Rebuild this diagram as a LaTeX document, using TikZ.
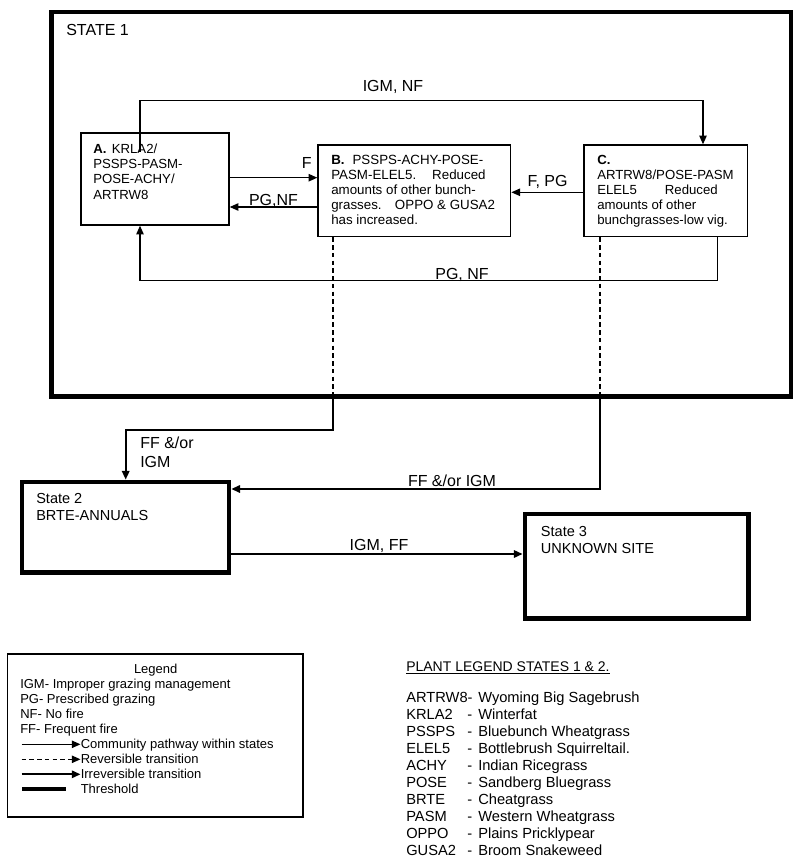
\documentclass[tikz,border=0pt]{standalone}
\usepackage{fontspec}
\setmainfont{Liberation Sans}
\usetikzlibrary{arrows.meta,calc}
\newcommand\plantrow[2]{\makebox[45.75pt][l]{#1}\makebox[8.25pt][l]{-}#2}
\begin{document}
\begin{tikzpicture}[x=0.75pt,y=-0.75pt,
  tip/.style={-{Triangle[length=6.5pt,width=5.5pt]}},
  comm/.style={line width=1pt,tip},
  trans/.style={line width=1.5pt,tip},
  revline/.style={line width=1pt,dash pattern=on 3.4pt off 2.4pt},
  thinbox/.style={draw,line width=1pt,inner sep=0pt},
  statebox/.style={draw,line width=3.5pt,inner sep=0pt},
  boxtxt/.style={anchor=north west,inner sep=0pt,align=left,font=\fontsize{10}{11.25}\selectfont},
  lbl/.style={inner sep=0pt,font=\fontsize{12}{13.9}\selectfont},
  legtxt/.style={inner sep=0pt,font=\fontsize{9.75}{11.25}\selectfont},
  plant/.style={anchor=north west,inner sep=0pt,align=left,font=\fontsize{11}{12.75}\selectfont}]
\useasboundingbox (0,0) rectangle (800,863);
\fill[white] (0,0) rectangle (800,863);

% State boxes
\node[statebox,minimum width=554.6pt,minimum height=288.4pt] (S1) at (421.25,204.25) {};
\node[anchor=north west,inner sep=0pt,font=\fontsize{12}{14}\selectfont] (S1t) at (66,24) {STATE 1};
\node[statebox,minimum width=155.25pt,minimum height=67.9pt] (S2) at (125.5,527.25) {};
\node[anchor=north west,inner sep=0pt,align=left,font=\fontsize{10.9}{12.5}\selectfont] (S2t) at (36,493.5) {State 2\\BRTE-ANNUALS};
\node[statebox,minimum width=167.5pt,minimum height=78.2pt] (S3) at (636.6,566.1) {};
\node[anchor=north west,inner sep=0pt,align=left,font=\fontsize{10.9}{12.5}\selectfont] (S3t) at (540.7,526) {State 3\\UNKNOWN SITE};

% Community boxes
\node[thinbox,minimum width=111pt,minimum height=69pt] (A) at (155,179) {};
\node[boxtxt,font=\fontsize{9.9}{11.5}\selectfont] (At) at (93,143.3) {\textbf{A.}\hspace{4pt}KRLA2/\\PSSPS-PASM-\\POSE-ACHY/\\ARTRW8};
\node[thinbox,minimum width=144.5pt,minimum height=68.8pt] (B) at (414.35,190.85) {};
\node[boxtxt] (Bt) at (331,154.6) {\textbf{B.}\hspace{6pt}PSSPS-ACHY-POSE-\\PASM-ELEL5.\hspace{12pt}Reduced\\amounts of other bunch-\\grasses.\hspace{10pt}OPPO \& GUSA2\\has increased.};
\node[thinbox,minimum width=122.8pt,minimum height=68.8pt] (C) at (665.85,190.85) {};
\node[boxtxt,font=\fontsize{9.9}{11.25}\selectfont] (Ct) at (597,155.3) {\textbf{C.}\\ARTRW8/POSE-PASM\\ELEL5\hspace{21pt}Reduced\\amounts of other\\bunchgrasses-low vig.};

% pathways within State 1
\coordinate (igmStart) at (140,152);
\coordinate (igmTurn) at (703,100.7);
\draw[comm] (igmStart) -- (igmStart |- igmTurn) -- (igmTurn) -- (igmTurn |- C.north);
\node[lbl,anchor=base] (lIN) at (393,91.7) {IGM, NF};

\coordinate (fY) at (0,177.7);
\draw[comm] (A.east |- fY) -- (B.west |- fY);
\node[lbl,anchor=base east] (lF) at (312,168) {F};

\coordinate (pgY) at (0,207);
\draw[comm] (B.west |- pgY) -- (A.east |- pgY);
\node[lbl,anchor=base] (lPN) at (273.5,205.7) {PG,NF};

\coordinate (fpY) at (0,192.3);
\draw[comm] (C.west |- fpY) -- (B.east |- fpY);
\node[lbl,anchor=base] (lFP) at (547.5,186.7) {F, PG};

\coordinate (botR) at (717.7,280.7);
\coordinate (botL) at (140,280.7);
\draw[comm] (C.south -| botR) -- (botR) -- (botL) -- (botL |- A.south);
\node[lbl,anchor=base] (lPN2) at (462,279.3) {PG, NF};

% transitions
\coordinate (bx) at (333,0);
\coordinate (bTurn) at (333,430);
\coordinate (bTurn2) at (125.7,430);
\draw[revline] (B.south -| bx) -- (S1.south -| bx);
\draw[trans] (S1.south -| bx) -- (bTurn) -- (bTurn2) -- (bTurn2 |- S2.north);
\node[anchor=north west,inner sep=0pt,align=left,font=\fontsize{12}{13.9}\selectfont] (lFF1) at (140,437) {FF \&/or\\IGM};

\coordinate (cx) at (600,0);
\coordinate (cTurn) at (600,489);
\draw[revline] (C.south -| cx) -- (S1.south -| cx);
\draw[trans] (S1.south -| cx) -- (cTurn) -- (cTurn -| S2.east);
\node[lbl,anchor=base] (lFF2) at (452,486.5) {FF \&/or IGM};

\coordinate (gY) at (0,554);
\draw[trans] (S2.east |- gY) -- (S3.west |- gY);
\node[lbl,anchor=base] (lIF) at (379,550) {IGM, FF};

% Legend
\node[thinbox,minimum width=221.8pt,minimum height=122.25pt] (L) at (155.15,735.5) {};
\node[legtxt,anchor=base] (Lh) at (155.7,673.6) {Legend};
\node[legtxt,anchor=north west,align=left] (Lt) at (20,678.4) {IGM- Improper grazing management\\PG- Prescribed grazing\\NF- No fire\\FF- Frequent fire};
\node[legtxt,anchor=base west] (L1) at (80.5,748.7) {Community pathway within states};
\node[legtxt,anchor=base west] (L2) at (80.5,763.7) {Reversible transition};
\node[legtxt,anchor=base west] (L3) at (80.5,778.7) {Irreversible transition};
\node[legtxt,anchor=base west] (L4) at (80.5,793.7) {Threshold};
\coordinate (l1s) at (21.7,744.3);
\coordinate (l2s) at (21.7,759.3);
\coordinate (l3s) at (21.7,774.3);
\coordinate (l4s) at (22,789);
\coordinate (l4e) at (66,789);
\draw[comm] (l1s) -- (l1s -| L1.west);
\draw[revline,tip] (l2s) -- (l2s -| L2.west);
\draw[trans] (l3s) -- (l3s -| L3.west);
\draw[line width=3.5pt] (l4s) -- (l4e);

% Plant legend
\node[plant,font=\fontsize{10.5}{12.75}\selectfont] (Pt) at (406,661.6) {\underline{PLANT LEGEND STATES 1 \& 2.}};
\node[plant] (Pl) at (406,691.8) {\makebox[54pt][l]{ARTRW8-}Wyoming Big Sagebrush\\
\plantrow{KRLA2}{Winterfat}\\
\plantrow{PSSPS}{Bluebunch Wheatgrass}\\
\plantrow{ELEL5}{Bottlebrush Squirreltail.}\\
\plantrow{ACHY}{Indian Ricegrass}\\
\plantrow{POSE}{Sandberg Bluegrass}\\
\plantrow{BRTE}{Cheatgrass}\\
\plantrow{PASM}{Western Wheatgrass}\\
\plantrow{OPPO}{Plains Pricklypear}\\
\plantrow{GUSA2}{Broom Snakeweed}};
\end{tikzpicture}
\end{document}
